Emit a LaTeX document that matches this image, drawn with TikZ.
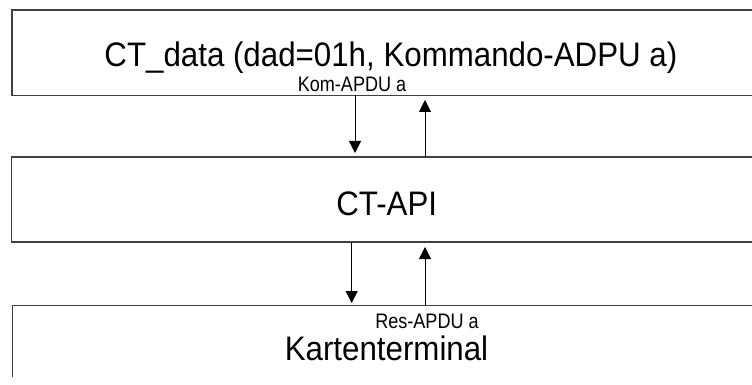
\documentclass[tikz,border=0pt]{standalone}
\usepackage{fontspec}
\setmainfont{Liberation Sans}[FakeStretch=0.92]
\newfontfamily\lblfont{Liberation Sans}[FakeStretch=0.86]
\usetikzlibrary{arrows.meta}
\begin{document}
\begin{tikzpicture}[x=1pt,y=1pt,
  layer/.style={draw=none,rectangle,inner sep=0pt,outer sep=0pt},
  boxline/.style={draw=black!75,line width=1.4pt},
  maintext/.style={anchor=base,inner sep=0pt,font=\fontsize{34pt}{38pt}\selectfont},
  lbltext/.style={anchor=base,inner sep=0pt,font=\lblfont\fontsize{21pt}{23pt}\selectfont},
  flow/.style={draw=black,line width=1pt,-{Triangle[width=12pt,length=12pt]}}]
\useasboundingbox (0,0) rectangle (752,-385);
% layer boxes (open on the right, as in the reference)
\node[layer,minimum width=740pt,minimum height=85.5pt] (data) at (382,-52.75) {};
\node[layer,minimum width=740.3pt,minimum height=85pt] (api) at (381.85,-199.5) {};
\node[layer,minimum width=739.5pt,minimum height=71.5pt] (term) at (382.25,-341.25) {};
\draw[boxline] (data.north east) -- (data.north west) -- (data.south west) -- (data.south east);
\draw[boxline] (api.north east) -- (api.north west) -- (api.south west) -- (api.south east);
\draw[boxline] (term.north east) -- (term.north west) -- (term.south west);
% texts
\node[maintext] (tdata) at (390.9,-66.7) {CT\_data (dad=01h, Kommando-ADPU a)};
\node[maintext] (tapi) at (386.7,-215.7) {CT-API};
\node[maintext] (tterm) at (386.5,-360) {Kartenterminal};
\node[lbltext] (kom) at (352,-91.7) {Kom-APDU a};
\node[lbltext] (res) at (427,-328) {Res-APDU a};
% arrow columns
\coordinate (c1) at (355,0);
\coordinate (c2) at (425,0);
\coordinate (c3) at (351.7,0);
\coordinate (c4) at (425,0);
\draw[flow,shorten >=4pt] (c1 |- data.south) -- (c1 |- api.north);
\draw[flow,shorten >=4.5pt] (c2 |- api.north) -- (c2 |- data.south);
\draw[flow,shorten >=2.5pt] (c3 |- api.south) -- (c3 |- term.north);
\draw[flow,shorten >=5pt] (c4 |- term.north) -- (c4 |- api.south);
\end{tikzpicture}
\end{document}
